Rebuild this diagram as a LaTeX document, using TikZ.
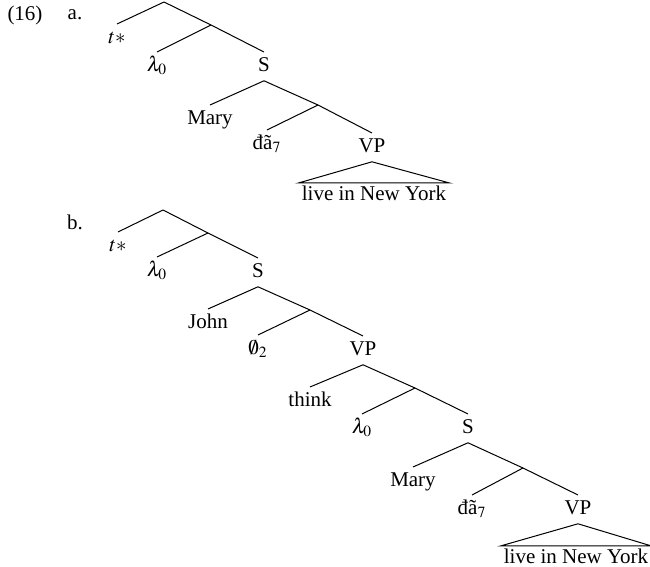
\documentclass[tikz,border=0pt]{standalone}
\usepackage{mathptmx}
\usepackage{fontspec}
\setmainfont{Liberation Serif}
\usetikzlibrary{positioning}

\begin{document}
\begin{tikzpicture}[
    x=0.5pt, y=-0.5pt,
    every node/.style={font=\fontsize{10.5pt}{12pt}\selectfont},
    cat/.style={anchor=north, inner sep=2.5pt, text height=7pt, text depth=2pt},
    phrase/.style={anchor=north, inner sep=1.5pt, text height=7pt, text depth=2pt},
    branch/.style={line width=0.5pt},
]
\useasboundingbox (0,0) rectangle (650,567);

% Example labels
\node (exnum) at (25,15) {(16)};
\node (exa) at (75,15) {a.};
\node (exb) at (75,222) {b.};

% Tree a: nodes
\coordinate (ra) at (164,2);
\coordinate (xa1) at (211,25);
\coordinate (xa2) at (318,105);
\node[cat] (ta) at (117,24) {$t{*}$};
\node[cat] (lama) at (157,52) {$\lambda_0$};
\node[cat] (sa) at (264,52) {S};
\node[cat] (marya) at (210,105) {Mary};
\node[cat] (daa) at (267,130) {đã$_7$};
\node[cat] (vpa) at (372,133) {VP};
\node[phrase] (liva) at (374,183) {live in New York};

% Tree a: branches
\draw[branch] (ra) -- (ta.north);
\draw[branch] (ra) -- (xa1);
\draw[branch] (xa1) -- (lama.north);
\draw[branch] (xa1) -- (sa.north);
\draw[branch] (sa.south) -- (marya.north);
\draw[branch] (sa.south) -- (xa2);
\draw[branch] (xa2) -- (daa.north);
\draw[branch] (xa2) -- (vpa.north);
\draw[branch] (vpa.south) -- (liva.north west) -- (liva.north east) -- cycle;

% Tree b: nodes
\coordinate (rb) at (163,210);
\coordinate (xb1) at (208,233);
\coordinate (xb2) at (310,310);
\coordinate (xb3) at (415,388);
\coordinate (xb4) at (523,468);
\node[cat] (tb) at (118,232) {$t{*}$};
\node[cat] (lamb) at (157,257) {$\lambda_0$};
\node[cat] (sb) at (258,258) {S};
\node[cat] (john) at (208,309) {John};
\node[cat] (nullb) at (258,335) {$\emptyset_2$};
\node[cat] (vpb) at (363,336) {VP};
\node[cat] (think) at (310,387) {think};
\node[cat] (lamc) at (362,414) {$\lambda_0$};
\node[cat] (sc) at (468,414) {S};
\node[cat] (maryb) at (413,467) {Mary};
\node[cat] (dab) at (472,495) {đã$_7$};
\node[cat] (vpc) at (578,495) {VP};
\node[phrase] (livb) at (576,546) {live in New York};

% Tree b: branches
\draw[branch] (rb) -- (tb.north);
\draw[branch] (rb) -- (xb1);
\draw[branch] (xb1) -- (lamb.north);
\draw[branch] (xb1) -- (sb.north);
\draw[branch] (sb.south) -- (john.north);
\draw[branch] (sb.south) -- (xb2);
\draw[branch] (xb2) -- (nullb.north);
\draw[branch] (xb2) -- (vpb.north);
\draw[branch] (vpb.south) -- (think.north);
\draw[branch] (vpb.south) -- (xb3);
\draw[branch] (xb3) -- (lamc.north);
\draw[branch] (xb3) -- (sc.north);
\draw[branch] (sc.south) -- (maryb.north);
\draw[branch] (sc.south) -- (xb4);
\draw[branch] (xb4) -- (dab.north);
\draw[branch] (xb4) -- (vpc.north);
\draw[branch] (vpc.south) -- (livb.north west) -- (livb.north east) -- cycle;

\end{tikzpicture}
\end{document}
